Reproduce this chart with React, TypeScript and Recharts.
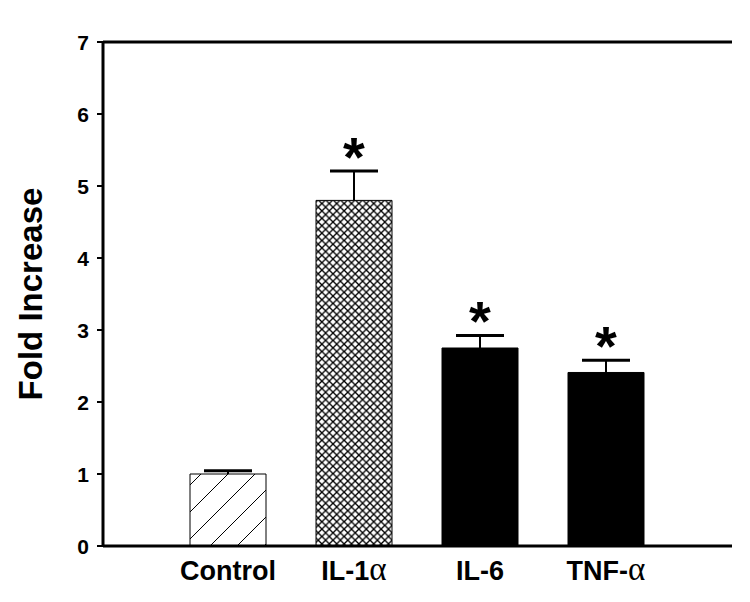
import { BarChart, Bar, XAxis, YAxis, Cell, LabelList, ReferenceLine } from "recharts";

const categories = ["Control", "IL-1α", "IL-6", "TNF-α"];
const foldIncrease = [1.0, 4.8, 2.75, 2.41];
const errorUp = [0.045, 0.41, 0.175, 0.17];
const significant = [false, true, true, true];
const yTicks = [0, 1, 2, 3, 4, 5, 6, 7];

const fills = ["url(#hatch)", "url(#cross)", "#000", "#000"];

const data = categories.map((name, i) => ({
    name,
    value: foldIncrease[i],
    err: errorUp[i],
    star: significant[i] ? "*" : "",
}));

const FONT = "'Liberation Sans', Arial, sans-serif";

// splits the greek alpha off so it can be set in a serif face like the original
function XTick(props: any) {
    const { x, y, payload } = props;
    const label: string = payload.value;
    const parts = label.split("α");
    return (
        <text x={x} y={y} dy={26} textAnchor="middle" fontFamily={FONT} fontWeight="bold" fontSize={27} fill="#000">
            <tspan>{parts[0]}</tspan>
            {parts.length > 1 && (
                <tspan fontFamily="'Liberation Serif', serif" fontWeight="normal" fontSize={33}>
                    α
                </tspan>
            )}
        </text>
    );
}

function YTick(props: any) {
    const { x, y, payload } = props;
    return (
        <text x={x} y={y} dy={7.5} textAnchor="end" fontFamily={FONT} fontWeight="bold" fontSize={21} fill="#000">
            {payload.value}
        </text>
    );
}

function ErrorShape(props: any) {
    const { x, y, width, height } = props;
    const cx = x + width / 2;
    return (
        <g>
            <line x1={cx} y1={y + height} x2={cx} y2={y} stroke="#000" strokeWidth={2} />
            <line x1={cx - 24} y1={y} x2={cx + 24} y2={y} stroke="#000" strokeWidth={3} />
        </g>
    );
}

function Star(props: any) {
    const { x, y, width, value } = props;
    if (!value) return null;
    return (
        <text x={x + width / 2} y={y + 5} textAnchor="middle" fontFamily={FONT} fontWeight="bold" fontSize={56} fill="#000">
            {value}
        </text>
    );
}

export default function App() {
    return (
        <div style={{ position: "absolute", left: 0, top: 0, background: "#fff" }}>
            <BarChart
                width={750}
                height={602}
                data={data}
                margin={{ top: 42, right: 18, bottom: 16, left: 43 }}
            >
                <defs>
                    <pattern id="hatch" width={27} height={27} patternUnits="userSpaceOnUse">
                        <rect width={27} height={27} fill="#fff" />
                        <line x1={0} y1={27} x2={27} y2={0} stroke="#000" strokeWidth={1} />
                        <line x1={-2} y1={2} x2={2} y2={-2} stroke="#000" strokeWidth={1} />
                        <line x1={25} y1={29} x2={29} y2={25} stroke="#000" strokeWidth={1} />
                    </pattern>
                    <pattern id="cross" width={7.4} height={7.4} patternUnits="userSpaceOnUse">
                        <rect width={7.4} height={7.4} fill="#fff" />
                        <line x1={0} y1={0} x2={7.4} y2={7.4} stroke="#000" strokeWidth={1.3} />
                        <line x1={7.4} y1={0} x2={0} y2={7.4} stroke="#000" strokeWidth={1.3} />
                    </pattern>
                </defs>
                <XAxis
                    dataKey="name"
                    tick={<XTick />}
                    tickLine={false}
                    axisLine={{ stroke: "#000", strokeWidth: 3 }}
                    padding={{ left: 62, right: 63 }}
                    height={40}
                    interval={0}
                />
                <YAxis
                    domain={[0, 7]}
                    ticks={yTicks}
                    width={60}
                    tickSize={6}
                    tickMargin={8}
                    tickLine={{ stroke: "#000", strokeWidth: 2 }}
                    axisLine={{ stroke: "#000", strokeWidth: 3 }}
                    tick={<YTick />}
                    label={{
                        value: "Fold Increase",
                        angle: -90,
                        position: "insideLeft",
                        offset: -13,
                        style: { fill: "#000", fontFamily: FONT, fontWeight: "bold", fontSize: 33, textAnchor: "middle" },
                    }}
                />
                <YAxis
                    yAxisId="right"
                    orientation="right"
                    domain={[0, 7]}
                    width={0}
                    tick={false}
                    tickLine={false}
                    axisLine={{ stroke: "#000", strokeWidth: 3 }}
                />
                <ReferenceLine y={7} stroke="#000" strokeWidth={3} />
                <Bar dataKey="value" stackId="a" barSize={76} isAnimationActive={false}>
                    {data.map((d, i) => (
                        <Cell key={d.name} fill={fills[i]} stroke="#000" strokeWidth={1} />
                    ))}
                </Bar>
                <Bar dataKey="err" stackId="a" barSize={76} shape={<ErrorShape />} isAnimationActive={false}>
                    <LabelList dataKey="star" content={<Star />} />
                </Bar>
            </BarChart>
        </div>
    );
}
